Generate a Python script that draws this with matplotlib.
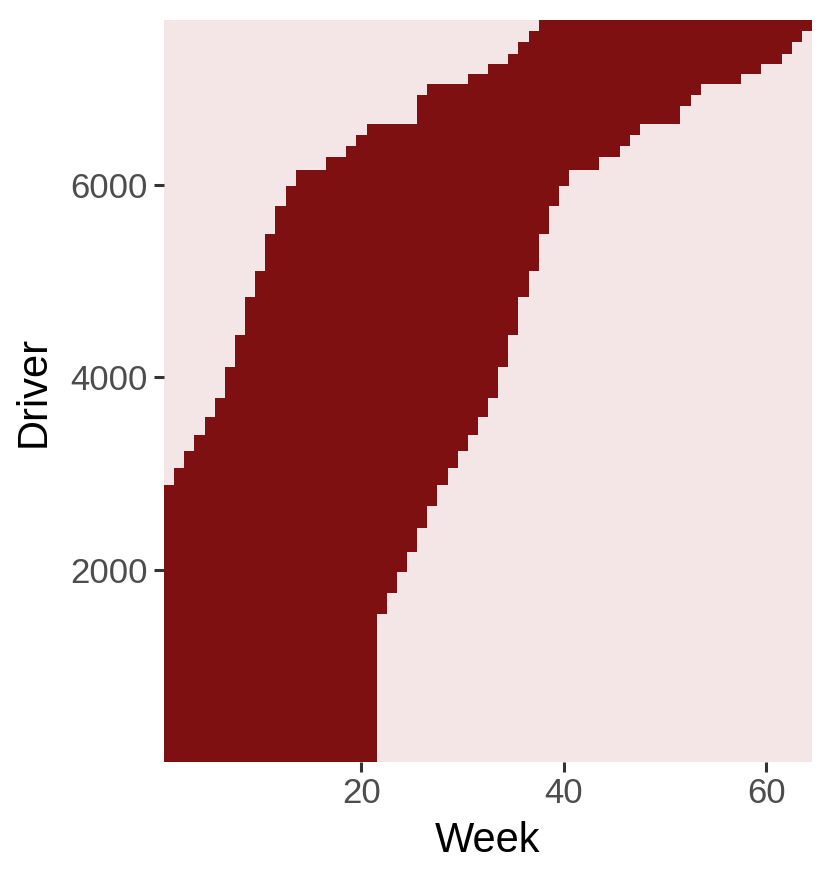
import numpy as np
import matplotlib.pyplot as plt

# cohorts of drivers: first active week, last active week, number of drivers
start_week = [1, 1, 1, 1, 1, 1, 1, 2, 3, 4, 5, 6, 7, 8, 9, 10, 11, 12, 13, 14,
              17, 19, 20, 21, 26, 26, 27, 31, 33, 35, 36, 37, 38]
end_week = [21, 22, 23, 24, 25, 26, 27, 28, 29, 30, 31, 32, 33, 34, 35, 36, 37, 38, 39, 40,
            43, 45, 46, 47, 51, 52, 53, 57, 59, 61, 62, 63, 64]
n_drivers = [1540, 221, 215, 208, 249, 225, 222, 175, 178, 170, 185, 196, 322, 332, 398, 270,
             380, 291, 210, 164, 133, 114, 121, 112, 183, 121, 111, 104, 107, 104, 122, 117, 111]
n_weeks = 64

x_ticks = [20, 40, 60]
y_ticks = [2000, 4000, 6000]

active_col = '#7f1011'
idle_col = '#f4e6e7'

plt.rcParams['font.family'] = ['Liberation Sans', 'DejaVu Sans']

fig = plt.figure(figsize=(8.3, 8.83), dpi=100)
ax = fig.add_axes([164 / 830, 1 - 762 / 883, (812 - 164) / 830, (762 - 20) / 883])
ax.set_facecolor(idle_col)

starts = np.array(start_week)
ends = np.array(end_week)
counts = np.array(n_drivers)
bottoms = 0.5 + np.concatenate([[0], np.cumsum(counts)[:-1]])

# one block per cohort, every driver in it shares the same active weeks
ax.barh(bottoms, ends - starts + 1, left=starts - 0.5, height=counts,
        align='edge', color=active_col, edgecolor='none', linewidth=0)

ax.set_xlim(0.5, n_weeks + 0.5)
ax.set_ylim(0.5, counts.sum() + 0.5)

for s in ax.spines.values():
    s.set_visible(False)

ax.set_xticks(x_ticks)
ax.set_yticks(y_ticks)
ax.tick_params(axis='both', length=7, width=2.2, color='#333333',
               labelsize=25, labelcolor='#4d4d4d')
ax.tick_params(axis='y', pad=5)
ax.tick_params(axis='x', pad=4)

ax.set_xlabel('Week', fontsize=30, labelpad=8)
ax.set_ylabel('Driver', fontsize=30, labelpad=12)

fig.savefig('out.png', dpi=100)
